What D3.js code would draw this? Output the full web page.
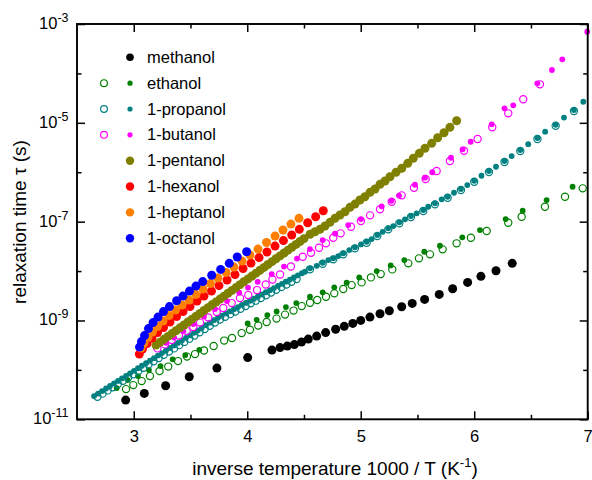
<!DOCTYPE html>
<html><head><meta charset="utf-8">
<script src="https://cdn.jsdelivr.net/npm/d3@7"></script>
<style>body{margin:0;background:#fff}svg{display:block;font-family:"Liberation Sans",Arial,sans-serif}</style>
</head><body><svg id="c" width="592" height="480"></svg>
<script>
// ---------- axes data ----------
const xDomain = [2.5, 7];
const yDomain = [1e-11, 1e-3];
const xMajorTicks = [3, 4, 5, 6, 7];
const xMinorTicks = [3.5, 4.5, 5.5, 6.5];
const yMajorExp = [-11, -9, -7, -5, -3];
const yMinorExp = [-10, -8, -6, -4];
const legendNames = ["methanol", "ethanol", "1-propanol", "1-butanol", "1-pentanol", "1-hexanol", "1-heptanol", "1-octanol"];

// ---------- series: x = 1000/T (1/K), values = log10(tau / s) ----------
const methanolX = [2.929,3.093,3.281,3.489,3.733,4.004,4.218,4.289,4.353,4.415,4.478,4.538,4.612,4.691,4.779,4.855,4.930,5.000,5.081,5.170,5.252,5.361,5.454,5.563,5.692,5.810,5.942,6.059,6.192,6.335];
const methanolLogTau = [-10.611,-10.476,-10.322,-10.140,-9.964,-9.751,-9.599,-9.549,-9.518,-9.488,-9.437,-9.377,-9.316,-9.245,-9.178,-9.119,-9.059,-8.998,-8.931,-8.864,-8.804,-8.723,-8.654,-8.573,-8.472,-8.358,-8.229,-8.107,-7.994,-7.844];

const ethanolX = [2.850,2.947,3.037,3.134,3.236,3.343,3.454,3.578,4.004,4.083,4.177,4.259,4.341,4.432,4.553,4.665,4.767,4.876,4.987,5.141,5.264,5.384,5.560,5.698,5.895,6.051,6.277,6.427,6.638,6.867];
const ethanolLogTau = [-10.369,-10.207,-10.126,-10.004,-9.923,-9.786,-9.700,-9.593,-9.059,-8.986,-8.891,-8.816,-8.729,-8.648,-8.520,-8.431,-8.330,-8.237,-8.128,-8.000,-7.885,-7.777,-7.609,-7.488,-7.318,-7.170,-6.947,-6.779,-6.563,-6.294];
const ethanolOpenX = [2.932,2.996,3.070,3.143,3.227,3.304,3.390,3.469,3.540,3.619,3.704,3.797,3.866,3.951,4.024,4.097,4.171,4.258,4.333,4.408,4.480,4.553,4.617,4.694,4.767,4.846,4.920,5.008,5.090,5.176,5.278,5.419,5.513,5.610,5.722,5.845,5.971,6.110,6.300,6.418,6.623,6.800,6.956];
const ethanolOpenLogTau = [-10.389,-10.308,-10.227,-10.126,-10.024,-9.933,-9.822,-9.731,-9.680,-9.609,-9.518,-9.407,-9.356,-9.255,-9.188,-9.103,-9.032,-8.962,-8.881,-8.800,-8.709,-8.642,-8.587,-8.520,-8.451,-8.364,-8.284,-8.229,-8.128,-8.061,-7.966,-7.844,-7.743,-7.662,-7.561,-7.439,-7.326,-7.190,-7.022,-6.901,-6.698,-6.496,-6.326];

const propanolX = [2.650,2.685,2.720,2.756,2.791,2.826,2.861,2.896,2.932,2.967,3.002,3.037,3.072,3.108,3.143,3.178,3.213,3.248,3.284,3.319,3.354,3.389,3.424,3.460,3.495,3.530,3.565,3.600,3.636,3.671,3.706,
  3.742,3.777,3.812,3.848,3.883,3.918,3.953,3.988,4.024,4.059,4.094,4.129,4.164,4.200,4.235,4.270,4.305,4.340,4.376,4.411,4.446,4.482,
  4.509,4.553,4.612,4.665,4.714,4.758,4.802,4.846,4.899,4.949,5.002,5.052,5.096,5.146,5.193,5.243,5.287,5.340,5.390,5.443,5.493,5.551,5.595,5.654,5.713,5.766,5.822,5.883,5.939,6.000,6.064,6.130,6.192,6.267,6.330,6.406,6.476,6.557,6.625,6.718,6.791,6.879,6.961];
const propanolLogTau = [-10.530,-10.479,-10.428,-10.376,-10.325,-10.274,-10.223,-10.172,-10.120,-10.069,-10.018,-9.967,-9.916,-9.864,-9.813,-9.762,-9.711,-9.660,-9.608,-9.557,-9.506,-9.455,-9.404,-9.352,-9.301,-9.250,-9.199,-9.148,-9.096,-9.045,-8.994,
  -8.943,-8.900,-8.857,-8.815,-8.772,-8.729,-8.686,-8.643,-8.601,-8.558,-8.515,-8.472,-8.429,-8.387,-8.344,-8.301,-8.258,-8.215,-8.173,-8.130,-8.087,-8.044,
  -8.014,-7.945,-7.893,-7.832,-7.777,-7.743,-7.696,-7.642,-7.575,-7.520,-7.460,-7.407,-7.352,-7.271,-7.205,-7.136,-7.089,-7.014,-6.953,-6.887,-6.832,-6.765,-6.698,-6.630,-6.549,-6.496,-6.415,-6.340,-6.259,-6.172,-6.071,-5.976,-5.889,-5.773,-5.672,-5.551,-5.433,-5.308,-5.180,-5.039,-4.893,-4.741,-4.573];
const propanolOpenX = [2.680,2.725,2.770,2.815,2.860,2.905,2.950,2.995,3.040,3.085,3.130,3.175,3.220,3.265,3.310,3.355,3.400,3.445,3.490,3.535,3.580,3.625,3.670,3.715,3.760,3.805,3.850,3.895,3.940,3.985,4.030,4.075,4.120,4.165,4.210,4.255,4.300,4.345,4.390,4.435,
  4.553,4.665,4.758,4.846,4.949,5.052,5.146,5.243,5.340,5.443,5.551,5.654,5.766,5.883,6.000,6.130,6.267,6.406,6.557,6.718,6.879];
const propanolOpenLogTau = [-10.546,-10.481,-10.415,-10.350,-10.285,-10.219,-10.154,-10.088,-10.023,-9.957,-9.892,-9.826,-9.761,-9.696,-9.630,-9.565,-9.499,-9.434,-9.368,-9.303,-9.237,-9.172,-9.106,-9.041,-8.981,-8.926,-8.872,-8.817,-8.763,-8.708,-8.653,-8.599,-8.544,-8.489,-8.435,-8.380,-8.325,-8.271,-8.216,-8.161,
  -7.965,-7.852,-7.763,-7.662,-7.540,-7.427,-7.291,-7.156,-7.034,-6.907,-6.785,-6.650,-6.516,-6.360,-6.192,-5.996,-5.793,-5.571,-5.328,-5.059,-4.761];

const butanolX = [3.284,3.355,3.437,3.525,3.619,3.716,3.822,3.930,4.007,4.092,4.215,4.324,4.438,4.553,4.665,4.773,4.890,5.002,5.185,5.269,5.337,5.478,5.566,5.630,5.795,5.898,5.969,6.154,6.267,6.344,6.556,6.685,6.776,6.996];
const butanolLogTau = [-9.452,-9.346,-9.215,-9.073,-8.921,-8.769,-8.607,-8.439,-8.334,-8.217,-8.061,-7.909,-7.747,-7.555,-7.373,-7.241,-7.069,-6.947,-6.690,-6.579,-6.472,-6.253,-6.111,-6.000,-5.707,-5.537,-5.383,-5.030,-4.707,-4.646,-4.200,-3.931,-3.715,-3.156];
const butanolOpenX = [3.208,3.275,3.334,3.399,3.467,3.525,3.584,3.657,3.731,3.789,3.863,3.936,4.009,4.086,4.163,4.222,4.289,4.385,4.489,4.562,4.632,4.694,4.758,4.823,4.914,5.002,5.082,5.170,5.273,5.361,5.469,5.572,5.669,5.786,5.910,6.030,6.159,6.300,6.432,6.579];
const butanolOpenLogTau = [-9.565,-9.484,-9.397,-9.306,-9.215,-9.134,-9.043,-8.941,-8.830,-8.749,-8.648,-8.547,-8.486,-8.385,-8.273,-8.172,-8.071,-7.909,-7.711,-7.630,-7.528,-7.439,-7.326,-7.237,-7.103,-6.988,-6.873,-6.749,-6.597,-6.468,-6.314,-6.138,-5.976,-5.773,-5.565,-5.328,-5.091,-4.808,-4.524,-4.221];

const pentanolX = [3.196,3.231,3.266,3.302,3.337,3.372,3.407,3.443,3.478,3.513,3.548,3.584,3.619,3.654,3.689,3.725,3.760,3.795,3.830,3.866,3.901,3.936,3.971,4.007,4.042,4.077,4.112,4.148,4.183,4.218,4.253,4.289,4.324,4.359,4.394,4.430,4.465,4.500,
  4.553,4.597,4.641,4.685,4.729,4.773,4.817,4.861,4.905,4.949,4.993,5.037,5.082,5.126,5.170,5.214,5.258,5.311,5.361,5.414,5.463,5.516,5.566,5.625,5.678,5.734,5.786,5.845];
const pentanolLogTau = [-9.498,-9.440,-9.382,-9.323,-9.265,-9.207,-9.149,-9.091,-9.032,-8.974,-8.916,-8.858,-8.799,-8.741,-8.683,-8.625,-8.567,-8.508,-8.450,-8.392,-8.334,-8.275,-8.217,-8.159,-8.101,-8.043,-7.984,-7.926,-7.868,-7.810,-7.751,-7.693,-7.635,-7.577,-7.519,-7.460,-7.402,-7.344,
  -7.257,-7.205,-7.156,-7.089,-7.014,-6.933,-6.866,-6.800,-6.711,-6.644,-6.563,-6.496,-6.407,-6.340,-6.245,-6.178,-6.091,-6.002,-5.921,-5.820,-5.719,-5.618,-5.516,-5.415,-5.302,-5.200,-5.091,-4.958];

const hexanolX = [3.049,3.077,3.117,3.161,3.209,3.262,3.319,3.377,3.434,3.496,3.557,3.619,3.685,3.751,3.822,3.892,3.963,4.033,4.104,4.174,4.245,4.319,4.392,4.459,4.533,4.603,4.670];
const hexanolLogTau = [-9.680,-9.579,-9.468,-9.356,-9.245,-9.144,-9.032,-8.921,-8.820,-8.719,-8.607,-8.506,-8.405,-8.294,-8.182,-8.071,-7.949,-7.838,-7.727,-7.615,-7.494,-7.383,-7.271,-7.156,-7.022,-6.901,-6.779];

const heptanolX = [3.064,3.090,3.126,3.165,3.209,3.258,3.311,3.368,3.425,3.487,3.548,3.610,3.676,3.742,3.813,3.883,3.954,4.024,4.095,4.170,4.245,4.315,4.385,4.456];
const heptanolLogTau = [-9.559,-9.458,-9.346,-9.235,-9.124,-9.012,-8.901,-8.790,-8.688,-8.587,-8.476,-8.364,-8.253,-8.142,-8.030,-7.919,-7.798,-7.676,-7.555,-7.423,-7.292,-7.170,-7.049,-6.933];

const octanolX = [3.051,3.068,3.095,3.130,3.170,3.214,3.262,3.315,3.378,3.434,3.491,3.548,3.608,3.687,3.766,3.842,3.912,3.995];
const octanolLogTau = [-9.539,-9.427,-9.306,-9.164,-9.043,-8.931,-8.820,-8.719,-8.601,-8.506,-8.405,-8.304,-8.213,-8.085,-7.966,-7.844,-7.715,-7.609];

// ---------- styles ----------
const BIG = 4.5, SMALL = 2.9, OPEN = 3.6;
const layers = [
  {xs: methanolX, ls: methanolLogTau, color: "#000000", r: BIG, open: false},
  {xs: ethanolOpenX, ls: ethanolOpenLogTau, color: "#008000", r: OPEN, open: true},
  {xs: ethanolX, ls: ethanolLogTau, color: "#008000", r: SMALL, open: false},
  {xs: propanolOpenX, ls: propanolOpenLogTau, color: "#008080", r: OPEN, open: true},
  {xs: propanolX, ls: propanolLogTau, color: "#008080", r: SMALL, open: false},
  {xs: butanolOpenX, ls: butanolOpenLogTau, color: "#ff00ff", r: OPEN, open: true},
  {xs: butanolX, ls: butanolLogTau, color: "#ff00ff", r: SMALL, open: false},
  {xs: pentanolX, ls: pentanolLogTau, color: "#808000", r: BIG, open: false},
  {xs: hexanolX, ls: hexanolLogTau, color: "#ff0000", r: BIG, open: false},
  {xs: heptanolX, ls: heptanolLogTau, color: "#ff8000", r: BIG, open: false},
  {xs: octanolX, ls: octanolLogTau, color: "#0000ff", r: BIG, open: false}
];
const legendStyle = [
  {color: "#000000", r: 3.8, open: false},
  {color: "#008000", r: 2.6, open: true},
  {color: "#008080", r: 2.6, open: true},
  {color: "#ff00ff", r: 2.6, open: true},
  {color: "#808000", r: 4.2, open: false},
  {color: "#ff0000", r: 4.2, open: false},
  {color: "#ff8000", r: 4.2, open: false},
  {color: "#0000ff", r: 4.2, open: false}
];

const svg = d3.select("#c");
const L = 77, R = 587.7, T = 24, B = 419.3;
const x = d3.scaleLinear().domain(xDomain).range([L, R]);
const y = d3.scaleLog().domain(yDomain).range([B, T]);
const FONT = '"Liberation Sans", Arial, sans-serif';

function styleAxis(g, w) {
  g.select(".domain").remove();
  g.selectAll(".tick line").attr("stroke", "#000").attr("stroke-width", w);
  g.attr("font-family", FONT);
}

// data points
layers.forEach(s => {
  const pts = d3.zip(s.xs, s.ls);
  svg.append("g").selectAll("circle").data(pts).join("circle")
    .attr("cx", d => x(d[0]))
    .attr("cy", d => y(Math.pow(10, d[1])))
    .attr("r", s.r)
    .attr("fill", s.open ? "none" : s.color)
    .attr("stroke", s.open ? s.color : "none")
    .attr("stroke-width", s.open ? 1.2 : 0);
});

// axes (ticks inward)
const yMaj = yMajorExp.map(e => Math.pow(10, e));
const yMin = yMinorExp.map(e => Math.pow(10, e));
svg.append("g").attr("transform", `translate(0,${B})`)
  .call(d3.axisBottom(x).tickValues(xMajorTicks).tickSize(-8).tickPadding(10.5).tickFormat(d3.format("d")))
  .call(g => styleAxis(g, 1.5)).attr("font-size", 16.5)
  .call(g => g.selectAll("text").attr("fill", "#000"));
svg.append("g").attr("transform", `translate(0,${B})`)
  .call(d3.axisBottom(x).tickValues(xMinorTicks).tickSize(-4.5).tickFormat(""))
  .call(g => styleAxis(g, 1.5));
svg.append("g").attr("transform", `translate(0,${T})`)
  .call(d3.axisTop(x).tickValues(xMajorTicks).tickSize(-8).tickFormat(""))
  .call(g => styleAxis(g, 1.5));
svg.append("g").attr("transform", `translate(0,${T})`)
  .call(d3.axisTop(x).tickValues(xMinorTicks).tickSize(-4.5).tickFormat(""))
  .call(g => styleAxis(g, 1.5));
svg.append("g").attr("transform", `translate(${L},0)`)
  .call(d3.axisLeft(y).tickValues(yMaj).tickSize(-8).tickFormat(""))
  .call(g => styleAxis(g, 1.5));
svg.append("g").attr("transform", `translate(${L},0)`)
  .call(d3.axisLeft(y).tickValues(yMin).tickSize(-4.5).tickFormat(""))
  .call(g => styleAxis(g, 1.5));
svg.append("g").attr("transform", `translate(${R},0)`)
  .call(d3.axisRight(y).tickValues(yMaj).tickSize(-8).tickFormat(""))
  .call(g => styleAxis(g, 1.5));
svg.append("g").attr("transform", `translate(${R},0)`)
  .call(d3.axisRight(y).tickValues(yMin).tickSize(-4.5).tickFormat(""))
  .call(g => styleAxis(g, 1.5));

// y tick labels with superscripts
yMajorExp.forEach(e => {
  const t = svg.append("text")
    .attr("x", L - 8.5).attr("y", y(Math.pow(10, e)) + 5)
    .attr("text-anchor", "end").attr("font-family", FONT).attr("font-size", 16.5).attr("fill", "#000");
  t.append("tspan").text("10");
  t.append("tspan").attr("font-size", 12.5).attr("dy", -7).text(String(e));
});

// frame
svg.append("rect").attr("x", L).attr("y", T).attr("width", R - L).attr("height", B - T)
  .attr("fill", "none").attr("stroke", "#000").attr("stroke-width", 1.9);

// axis titles
const xt = svg.append("text").attr("x", 335).attr("y", 475).attr("text-anchor", "middle")
  .attr("font-family", FONT).attr("font-size", 19).attr("fill", "#000");
xt.append("tspan").text("inverse temperature 1000 / T (K");
xt.append("tspan").attr("font-size", 13).attr("dy", -8).text("-1");
xt.append("tspan").attr("dy", 8).text(")");

svg.append("text").attr("transform", "translate(25.5,222) rotate(-90)").attr("text-anchor", "middle")
  .attr("font-family", FONT).attr("font-size", 19).attr("fill", "#000")
  .text("relaxation time \u03c4 (s)");

// legend
legendNames.forEach((name, i) => {
  const ry = 57.3 + i * 25.85;
  const st = legendStyle[i];
  if (st.open) {
    svg.append("circle").attr("cx", 104).attr("cy", ry).attr("r", 3.4)
      .attr("fill", "none").attr("stroke", st.color).attr("stroke-width", 1.2);
  }
  svg.append("circle").attr("cx", 130).attr("cy", ry).attr("r", st.r).attr("fill", st.color);
  svg.append("text").attr("x", 147).attr("y", ry + 5.5)
    .attr("font-family", FONT).attr("font-size", 16.5).attr("fill", "#000").text(name);
});
</script></body></html>
